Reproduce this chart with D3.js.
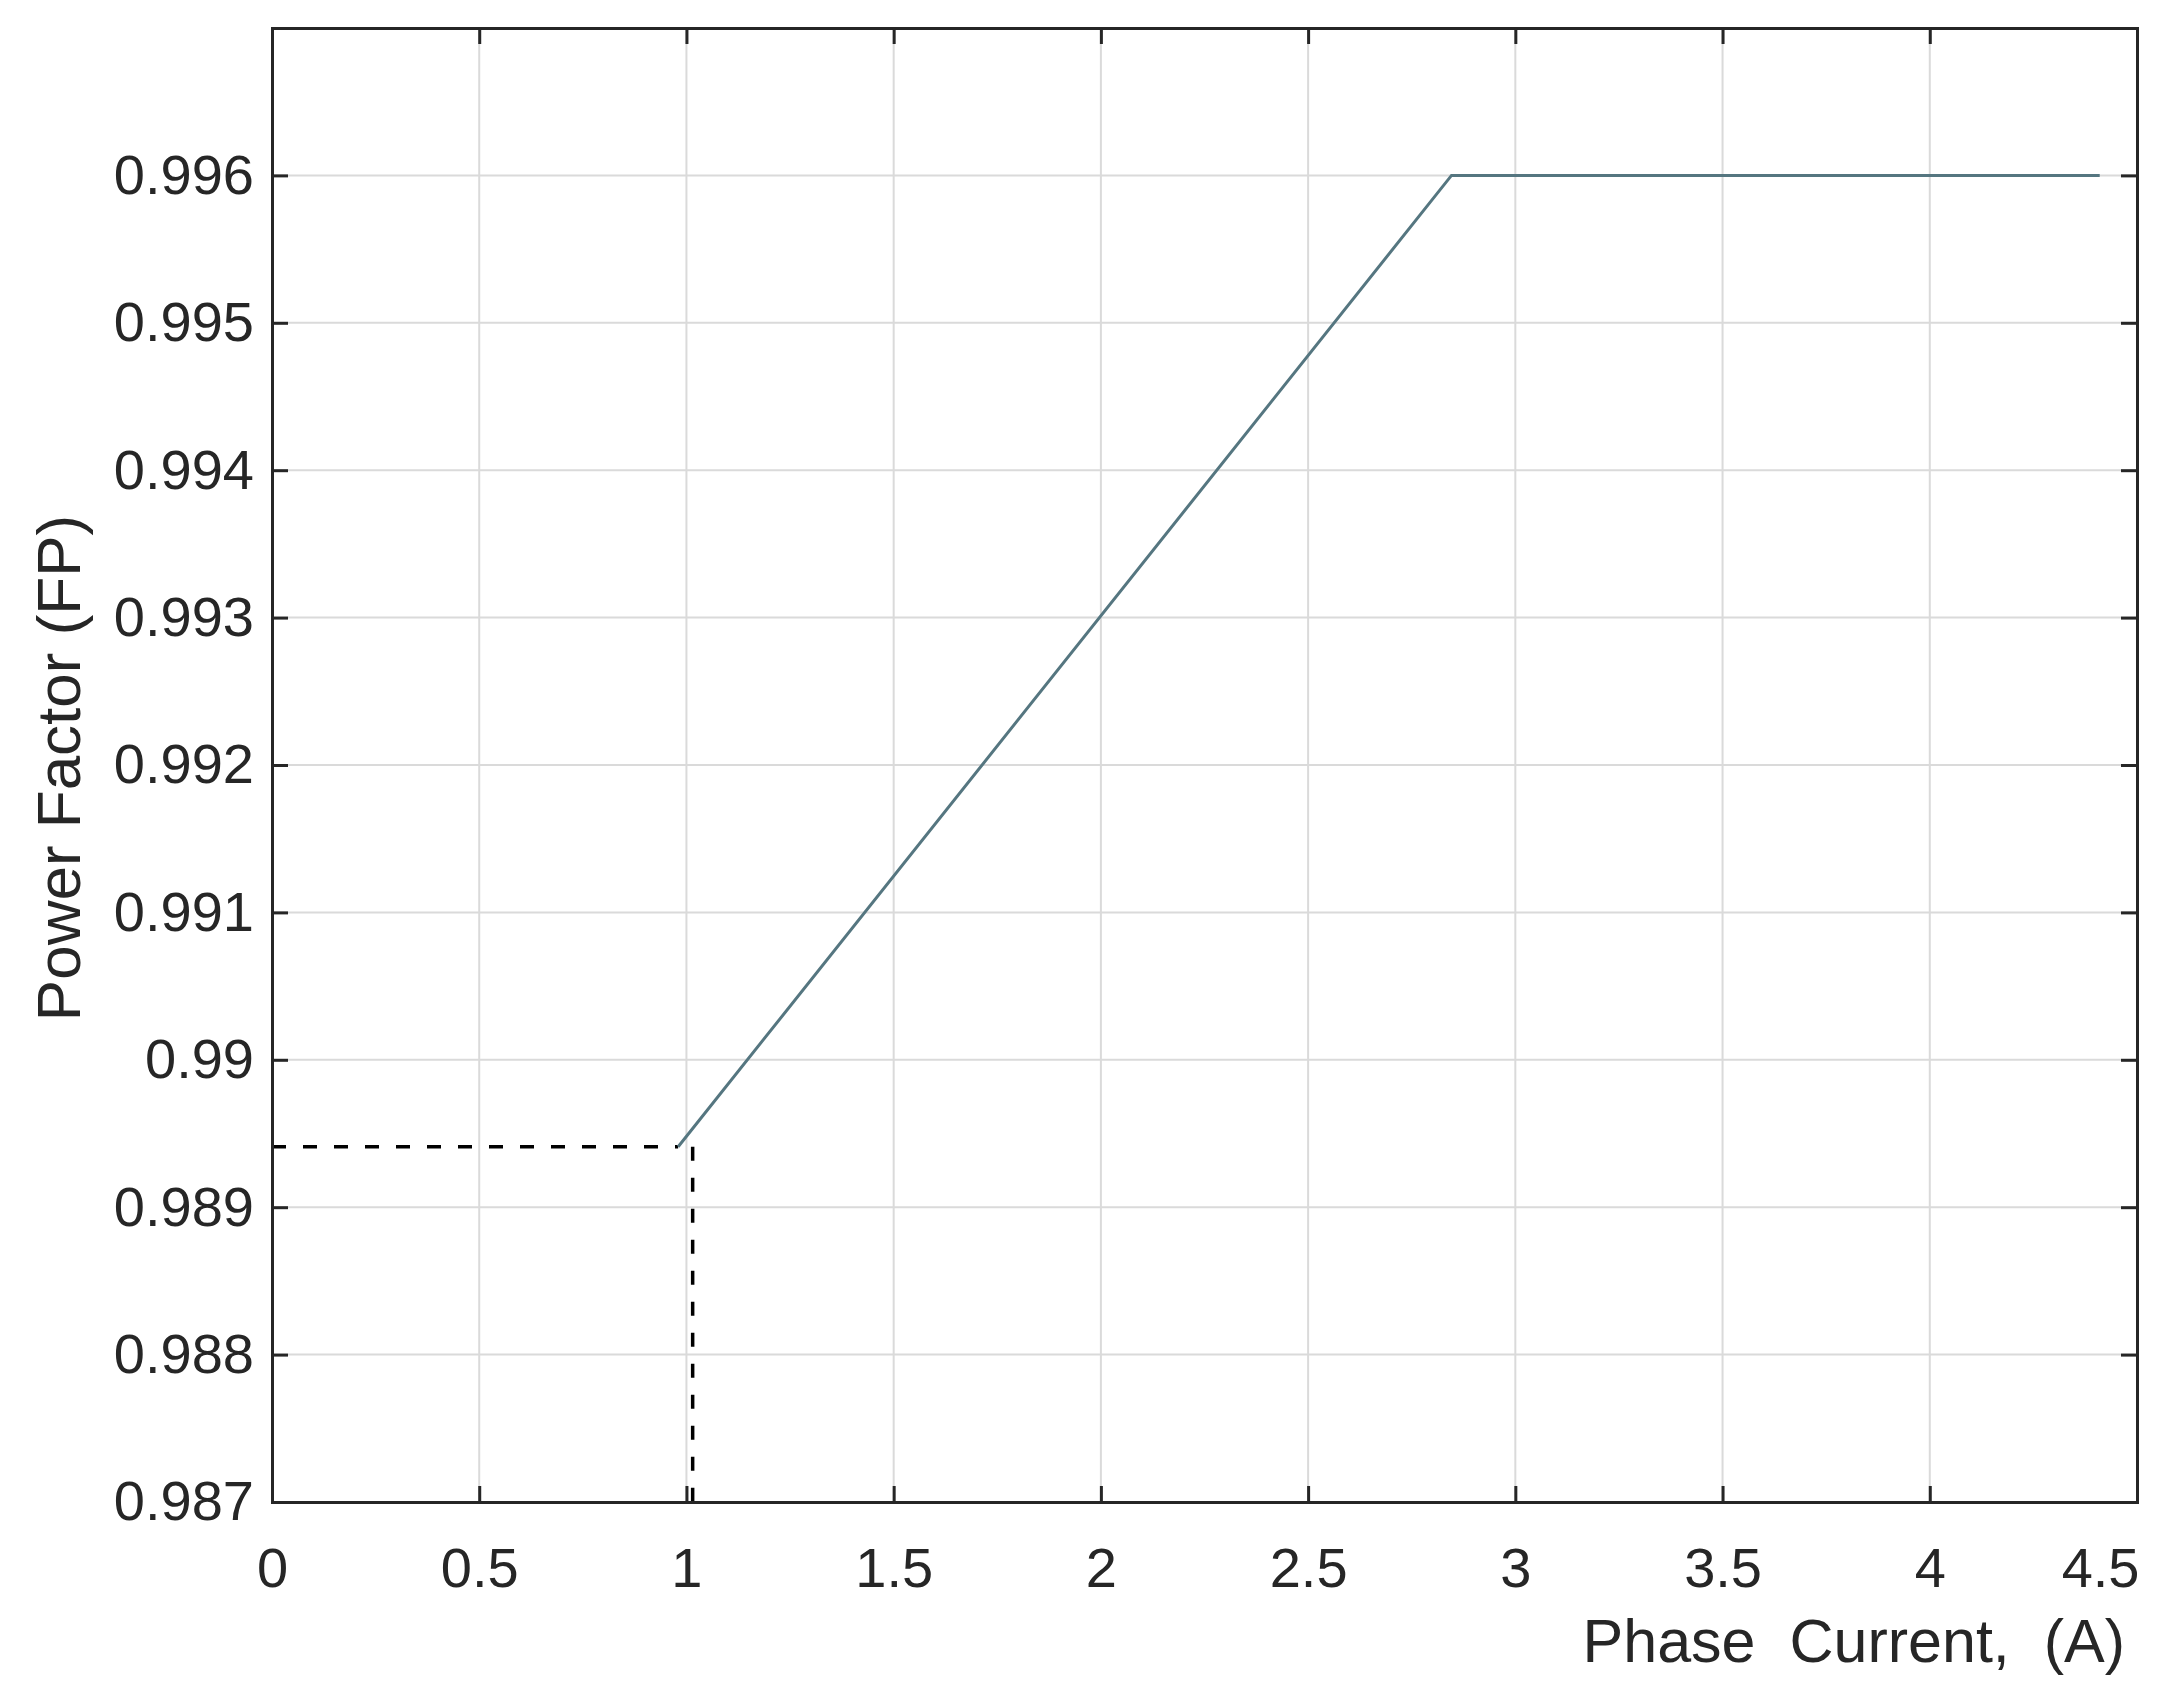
<!DOCTYPE html>
<html>
<head>
<meta charset="utf-8">
<script src="https://cdn.jsdelivr.net/npm/d3@7"></script>
<style>
  body { margin: 0; background: #fff; }
  text { font-family: "Liberation Sans", Arial, sans-serif; fill: #262626; }
</style>
</head>
<body>
<div id="main"></div>
<script>

// data
var current = [0.98, 2.846, 4.41];
var powerFactor = [0.98941, 0.996, 0.996];
var refCurrent = 1.015;
var refPF = 0.98941;

var xTicks = [0, 0.5, 1, 1.5, 2, 2.5, 3, 3.5, 4, 4.5];
var yTicks = [0.987, 0.988, 0.989, 0.99, 0.991, 0.992, 0.993, 0.994, 0.995, 0.996];

var W = 2157, H = 1697;
var m = {left: 272, top: 28, right: 20, bottom: 195};
var w = W - m.left - m.right, h = H - m.top - m.bottom;

var svg = d3.select('#main')
  .append('svg')
  .attr("width", W)
  .attr("height", H);

var g = svg.append('g').attr('transform', 'translate(' + m.left + ',' + m.top + ')');

var x = d3.scaleLinear().domain([0, 4.5]).range([0, w]);
var y = d3.scaleLinear().domain([0.987, 0.997]).range([h, 0]);

var fmt = d => String(+d.toFixed(3));

// grid
g.append('g')
  .selectAll('line.gx')
  .data(xTicks.slice(1, -1))
  .enter().append('line')
  .attr('x1', d => x(d)).attr('x2', d => x(d))
  .attr('y1', 0).attr('y2', h)
  .style('stroke', '#dadada').style('stroke-width', 2);

g.append('g')
  .selectAll('line.gy')
  .data(yTicks.slice(1))
  .enter().append('line')
  .attr('x1', 0).attr('x2', w)
  .attr('y1', d => y(d)).attr('y2', d => y(d))
  .style('stroke', '#dadada').style('stroke-width', 2);

// dashed reference lines
g.append('line')
  .attr('x1', x(0)).attr('x2', x(current[0]))
  .attr('y1', y(refPF)).attr('y2', y(refPF))
  .style('stroke', '#000').style('stroke-width', 3.5)
  .style('stroke-dasharray', '14,17');

g.append('line')
  .attr('x1', x(refCurrent)).attr('x2', x(refCurrent))
  .attr('y1', y(refPF)).attr('y2', y(0.987))
  .style('stroke', '#000').style('stroke-width', 3.5)
  .style('stroke-dasharray', '14,17');

// the curve
var pts = current.map((c, i) => [c, powerFactor[i]]);
g.append('path')
  .datum(pts)
  .attr('d', d3.line().x(d => x(d[0])).y(d => y(d[1])))
  .style('fill', 'none')
  .style('stroke', '#557680')
  .style('stroke-width', 3);

// axes, ticks pointing inside
var xAxis = g.append('g')
  .attr('transform', 'translate(0,' + h + ')')
  .call(d3.axisBottom(x).tickValues(xTicks).tickFormat(fmt).tickSize(-16).tickPadding(45));

var yAxis = g.append('g')
  .call(d3.axisLeft(y).tickValues(yTicks).tickFormat(fmt).tickSize(-16).tickPadding(18));

g.append('g')
  .call(d3.axisTop(x).tickValues(xTicks).tickFormat('').tickSize(-16));

g.append('g')
  .attr('transform', 'translate(' + w + ',0)')
  .call(d3.axisRight(y).tickValues(yTicks).tickFormat('').tickSize(-16));

g.selectAll('.domain').style('stroke', '#262626').style('stroke-width', 3);
g.selectAll('.tick line').style('stroke', '#262626').style('stroke-width', 3);

xAxis.selectAll('text').style('font-size', '56px').style('fill', '#262626');
yAxis.selectAll('text').style('font-size', '56px').style('fill', '#262626');

// last x label sits inside the box edge
xAxis.selectAll('.tick').filter(d => d === 4.5).select('text')
  .attr('text-anchor', 'end').attr('dx', 2);

// axis titles
svg.append('text')
  .text('Phase  Current,  (A)')
  .attr('x', 2125)
  .attr('y', 1662)
  .attr('text-anchor', 'end')
  .style('white-space', 'pre')
  .style('font-size', '61px');

svg.append('text')
  .text('Power Factor (FP)')
  .attr('transform', 'translate(80,768)rotate(-90)')
  .attr('text-anchor', 'middle')
  .style('font-size', '62px');

</script>
</body>
</html>
